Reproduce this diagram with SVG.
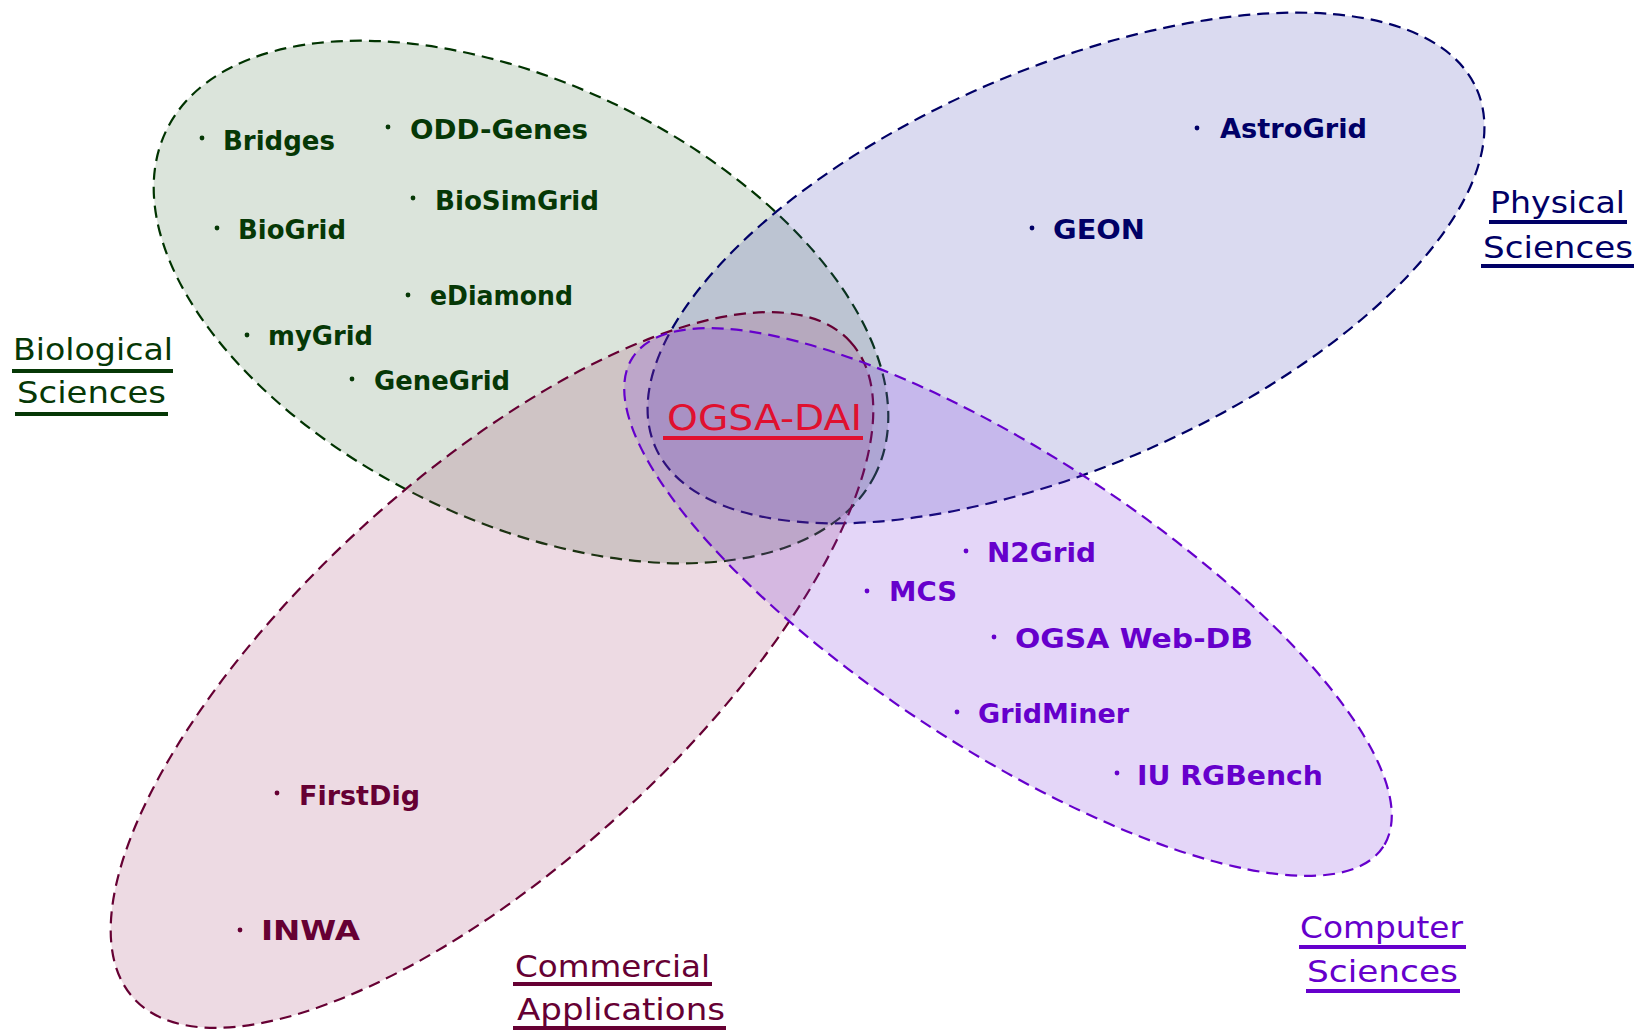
<svg xmlns="http://www.w3.org/2000/svg" width="1645" height="1036" viewBox="0 0 1645 1036">
<style>
.item{font-family:"DejaVu Sans","Liberation Sans",sans-serif;font-weight:bold;font-size:27px}
.lab{font-family:"DejaVu Sans","Liberation Sans",sans-serif;font-size:31px}
.ell{stroke-width:2.2;stroke-dasharray:12 7}
.bio{fill:#063806}
.phy{fill:#000066}
.com{fill:#660033}
.cs{fill:#6600cc}
</style>
<rect width="1645" height="1036" fill="#ffffff"/>
<g id="connectors"/>
<g id="biological">
<ellipse class="ell" transform="translate(521,302) rotate(25.8)" rx="394" ry="219" fill="#4d7a4d" fill-opacity="0.2" stroke="#003300"/>
</g>
<g id="physical">
<ellipse class="ell" transform="translate(1066,268) rotate(-23.5)" rx="448" ry="199" fill="#3333aa" fill-opacity="0.18" stroke="#000066"/>
</g>
<g id="commercial">
<ellipse class="ell" transform="translate(492,670) rotate(-42.5)" rx="486" ry="193" fill="#993366" fill-opacity="0.18" stroke="#660033"/>
</g>
<g id="computer">
<ellipse class="ell" transform="translate(1008,602) rotate(33.1)" rx="448" ry="147" fill="#7733dd" fill-opacity="0.2" stroke="#6600cc"/>
</g>
<g id="biological-items" class="bio">
<circle cx="202" cy="138" r="2.4"/><text class="item" x="223" y="150" textLength="112" lengthAdjust="spacingAndGlyphs">Bridges</text>
<circle cx="388" cy="127" r="2.4"/><text class="item" x="410" y="139" textLength="178" lengthAdjust="spacingAndGlyphs">ODD-Genes</text>
<circle cx="413" cy="198" r="2.4"/><text class="item" x="435" y="210" textLength="164" lengthAdjust="spacingAndGlyphs">BioSimGrid</text>
<circle cx="217" cy="228" r="2.4"/><text class="item" x="238" y="239" textLength="108" lengthAdjust="spacingAndGlyphs">BioGrid</text>
<circle cx="408" cy="295" r="2.4"/><text class="item" x="430" y="305" textLength="143" lengthAdjust="spacingAndGlyphs">eDiamond</text>
<circle cx="247" cy="335" r="2.4"/><text class="item" x="268" y="345" textLength="105" lengthAdjust="spacingAndGlyphs">myGrid</text>
<circle cx="352" cy="379" r="2.4"/><text class="item" x="374" y="390" textLength="136" lengthAdjust="spacingAndGlyphs">GeneGrid</text>
<text class="lab" x="13" y="360" textLength="160" lengthAdjust="spacingAndGlyphs">Biological</text>
<rect x="12" y="369" width="161" height="4"/>
<text class="lab" x="17" y="403" textLength="149" lengthAdjust="spacingAndGlyphs">Sciences</text>
<rect x="15" y="412" width="153" height="4"/>
</g>
<g id="physical-items" class="phy">
<circle cx="1197" cy="128" r="2.4"/><text class="item" x="1220" y="138" textLength="147" lengthAdjust="spacingAndGlyphs">AstroGrid</text>
<circle cx="1032" cy="228" r="2.4"/><text class="item" x="1053" y="239" textLength="92" lengthAdjust="spacingAndGlyphs">GEON</text>
<text class="lab" x="1490" y="213" textLength="135" lengthAdjust="spacingAndGlyphs">Physical</text>
<rect x="1489" y="220" width="138" height="4"/>
<text class="lab" x="1483" y="258" textLength="150" lengthAdjust="spacingAndGlyphs">Sciences</text>
<rect x="1481" y="264" width="153" height="4"/>
</g>
<g id="commercial-items" class="com">
<circle cx="277" cy="793" r="2.4"/><text class="item" x="299" y="805" textLength="121" lengthAdjust="spacingAndGlyphs">FirstDig</text>
<circle cx="240" cy="930" r="2.4"/><text class="item" x="261" y="940" textLength="99" lengthAdjust="spacingAndGlyphs">INWA</text>
<text class="lab" x="515" y="977" textLength="195" lengthAdjust="spacingAndGlyphs">Commercial</text>
<rect x="513" y="982" width="199" height="4"/>
<text class="lab" x="517" y="1020" textLength="208" lengthAdjust="spacingAndGlyphs">Applications</text>
<rect x="513" y="1026" width="213" height="4"/>
</g>
<g id="computer-items" class="cs">
<circle cx="966" cy="551" r="2.4"/><text class="item" x="987" y="562" textLength="109" lengthAdjust="spacingAndGlyphs">N2Grid</text>
<circle cx="867" cy="591" r="2.4"/><text class="item" x="889" y="601" textLength="68" lengthAdjust="spacingAndGlyphs">MCS</text>
<circle cx="994" cy="637" r="2.4"/><text class="item" x="1015" y="648" textLength="238" lengthAdjust="spacingAndGlyphs">OGSA Web-DB</text>
<circle cx="957" cy="712" r="2.4"/><text class="item" x="978" y="723" textLength="151" lengthAdjust="spacingAndGlyphs">GridMiner</text>
<circle cx="1117" cy="773" r="2.4"/><text class="item" x="1137" y="785" textLength="186" lengthAdjust="spacingAndGlyphs">IU RGBench</text>
<text class="lab" x="1300" y="938" textLength="163" lengthAdjust="spacingAndGlyphs">Computer</text>
<rect x="1299" y="945" width="167" height="4"/>
<text class="lab" x="1307" y="982" textLength="151" lengthAdjust="spacingAndGlyphs">Sciences</text>
<rect x="1306" y="989" width="154" height="4"/>
</g>
<g id="ogsa-dai" fill="#e0102f">
<text x="667" y="430" font-family="DejaVu Sans, Liberation Sans, sans-serif" font-size="35" textLength="195" lengthAdjust="spacingAndGlyphs">OGSA-DAI</text>
<rect x="663" y="436" width="200" height="4"/>
</g>
</svg>
